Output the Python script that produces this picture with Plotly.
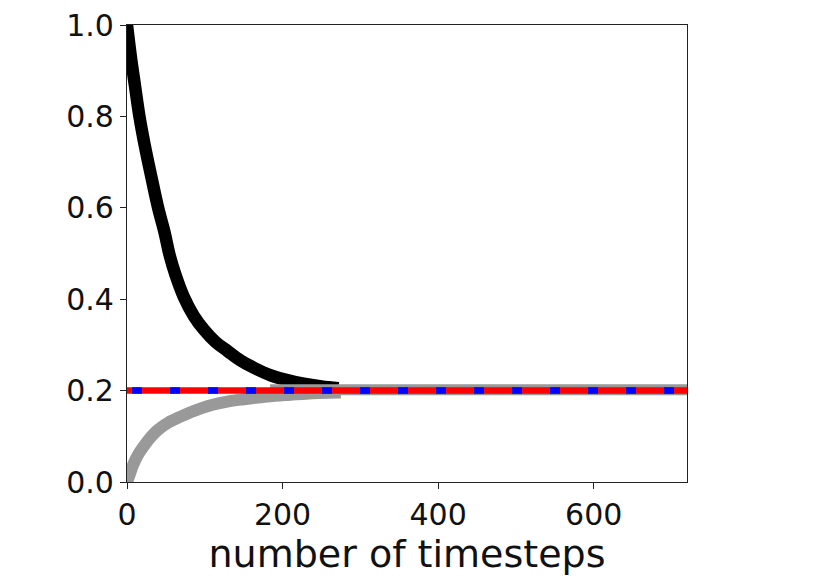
import plotly.graph_objects as go

# Werte
black_t = [0, 5, 10, 16, 23, 31, 40, 48, 55, 62, 73, 86, 99, 114, 129, 146, 163, 184, 206, 227, 250, 272]
black_y = [1.0, 0.93, 0.87, 0.80, 0.735, 0.67, 0.60, 0.548, 0.495, 0.455, 0.405, 0.363, 0.333, 0.306,
           0.287, 0.266, 0.250, 0.234, 0.223, 0.215, 0.209, 0.205]

gray_t = [0, 3, 8, 14, 21, 30, 39, 53, 69, 81, 95, 110, 129, 150, 180, 210, 245, 275]
gray_y = [0.0, 0.014, 0.038, 0.059, 0.077, 0.097, 0.113, 0.130, 0.143, 0.152, 0.161, 0.169,
          0.176, 0.181, 0.187, 0.191, 0.195, 0.196]

flat_t = [184, 720]
flat_y = [0.202, 0.202]

ref_t = [0, 720]
ref_y = [0.2, 0.2]

x_ticks = [0, 200, 400, 600]
y_ticks = [0.0, 0.2, 0.4, 0.6, 0.8, 1.0]
y_labels = ['0.0', '0.2', '0.4', '0.6', '0.8', '1.0']

FONT = 'DejaVu Sans'
AXIS_COLOR = '#222222'
TEXT_COLOR = '#111111'

fig = go.Figure()

# steigende Kurve (grau)
fig.add_trace(go.Scatter(x=gray_t, y=gray_y, mode='lines', line_shape='spline',
                         line=dict(color='#999999', width=12)))
# fallende Kurve (schwarz)
fig.add_trace(go.Scatter(x=black_t, y=black_y, mode='lines', line_shape='spline',
                         line=dict(color='black', width=12.5)))
# grauer Rest nahe 0.2
fig.add_trace(go.Scatter(x=flat_t, y=flat_y, mode='lines',
                         line=dict(color='#999999', width=11)))
# Referenzlinie rot + blau gestrichelt
fig.add_trace(go.Scatter(x=ref_t, y=ref_y, mode='lines',
                         line=dict(color='#ff0000', width=6.5)))
fig.add_trace(go.Scatter(x=ref_t, y=ref_y, mode='lines',
                         line=dict(color='#0000ff', width=6.5, dash='0px,5px,10px,23px')))

axis_common = dict(
    showgrid=False,
    zeroline=False,
    showline=True,
    mirror=True,
    linecolor=AXIS_COLOR,
    linewidth=1.3,
    ticks='outside',
    ticklen=6,
    tickwidth=1.3,
    tickcolor=AXIS_COLOR,
    ticklabeloverflow='allow',
    automargin=False,
    tickfont=dict(family=FONT, size=30, color=TEXT_COLOR),
)

fig.update_xaxes(range=[0, 720], tickvals=x_ticks,
                 title=dict(text='number of timesteps', standoff=6,
                            font=dict(family=FONT, size=38, color=TEXT_COLOR)),
                 **axis_common)
fig.update_yaxes(range=[0, 1], tickvals=y_ticks, ticktext=y_labels, **axis_common)

# Seite hat 8px Rand, daher 822x579
fig.update_layout(
    width=822,
    height=579,
    margin=dict(l=119, r=143, t=17, b=105),
    plot_bgcolor='white',
    paper_bgcolor='white',
    showlegend=False,
)

fig.write_html("out.html")
